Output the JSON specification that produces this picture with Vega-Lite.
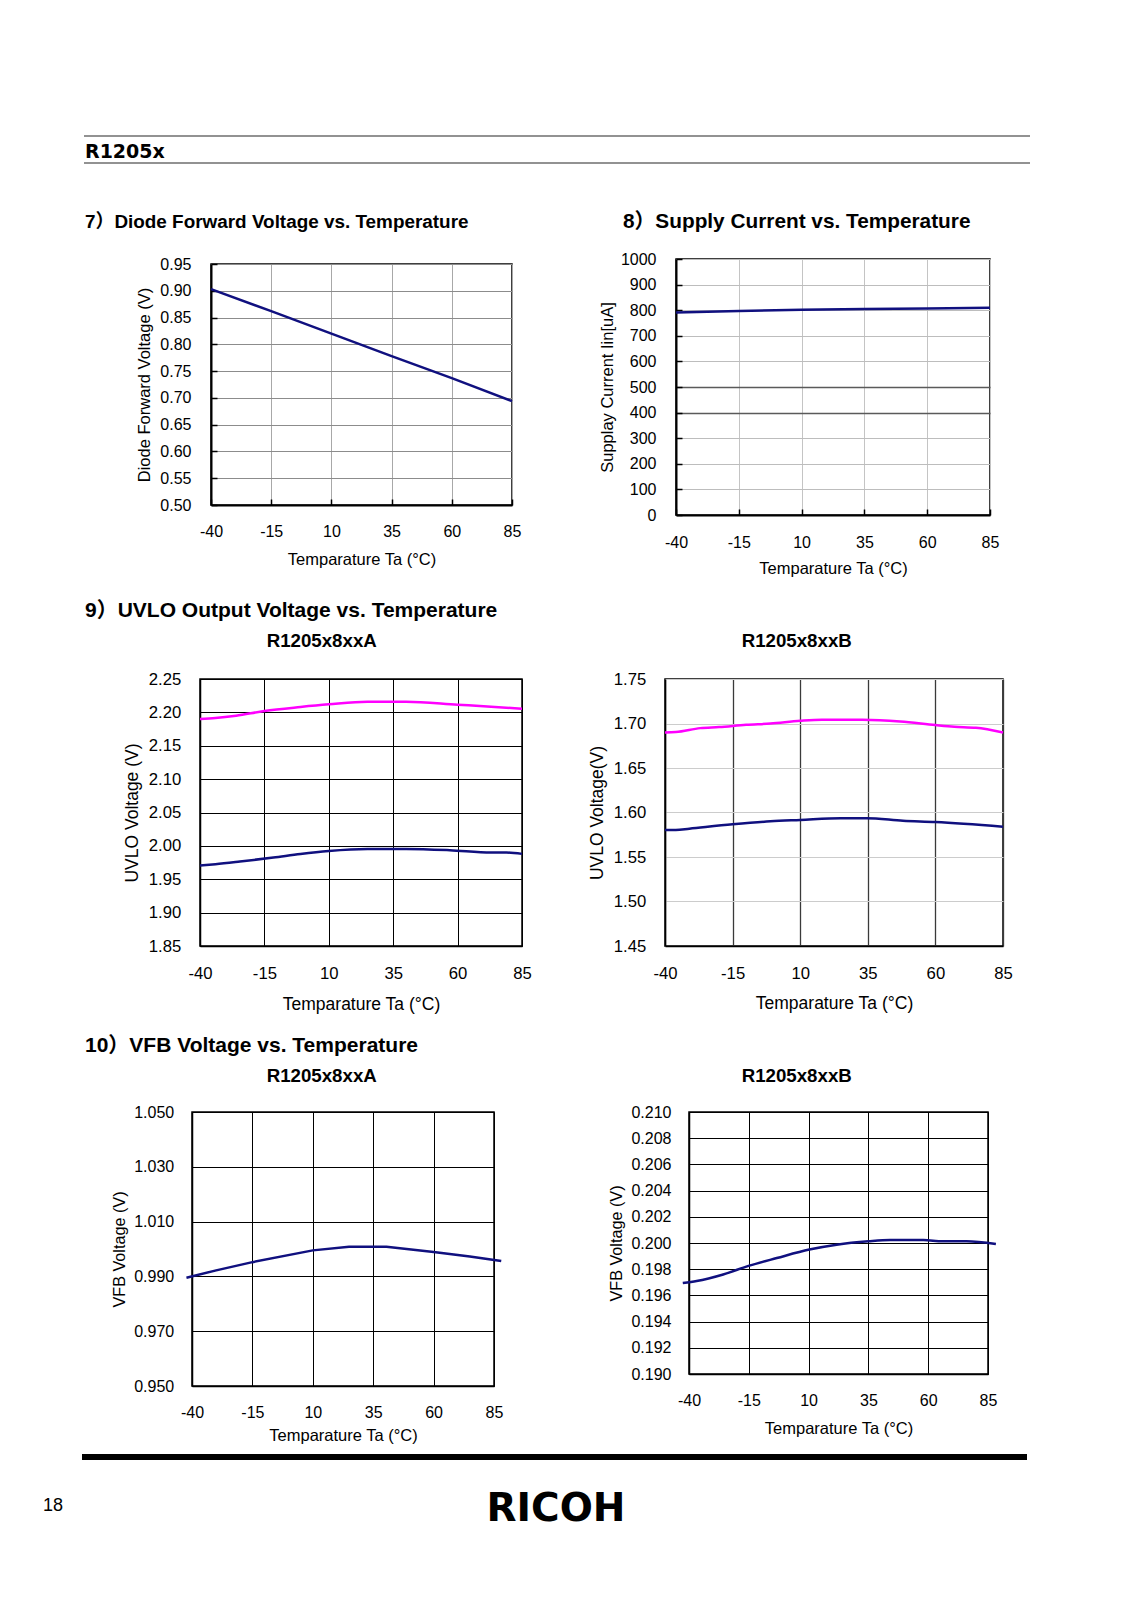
{
  "$schema": "https://vega.github.io/schema/vega-lite/v6.json",
  "background": "white",
  "padding": {"left": 43, "top": 135, "right": 20, "bottom": 60},
  "bounds": "flush",
  "spacing": 0,
  "config": {
    "view": {"stroke": null},
    "font": "Liberation Sans",
    "title": {"font": "Liberation Sans, Noto Sans CJK JP", "fontSize": 18.5, "fontWeight": "bold", "color": "#000", "baseline": "alphabetic", "frame": "group", "offset": 0},
    "axis": {"labelFont": "Liberation Sans", "titleFont": "Liberation Sans", "labelColor": "#000", "titleColor": "#000", "titleFontWeight": "normal", "labelFontSize": 16, "titleFontSize": 16.5, "domainColor": "#000", "domainWidth": 1.5, "tickColor": "#000", "tickWidth": 1.5, "labelFlush": false, "labelOverlap": false, "titleBaseline": "alphabetic", "gridOpacity": 1, "gridWidth": 1}
  },
  "datasets": {
    "blank": [{}],
    "header": [{"edge": "top"}, {"edge": "bottom"}],
    "footer": [{"k": "line"}],
    "diode": [
      {"t": -40, "v": 0.903}, {"t": -15, "v": 0.862}, {"t": 10, "v": 0.820},
      {"t": 35, "v": 0.778}, {"t": 60, "v": 0.737}, {"t": 85, "v": 0.694}
    ],
    "supply": [
      {"t": -40, "v": 791}, {"t": -15, "v": 797}, {"t": 10, "v": 802},
      {"t": 35, "v": 805}, {"t": 60, "v": 807}, {"t": 85, "v": 810}
    ],
    "uvloA": [
      {"s": "high", "t": -40, "v": 2.190}, {"s": "high", "t": -34, "v": 2.1915}, {"s": "high", "t": -26, "v": 2.195},
      {"s": "high", "t": -15, "v": 2.202}, {"s": "high", "t": -1, "v": 2.208}, {"s": "high", "t": 10, "v": 2.212},
      {"s": "high", "t": 25, "v": 2.216}, {"s": "high", "t": 40, "v": 2.216}, {"s": "high", "t": 60, "v": 2.2115},
      {"s": "high", "t": 73, "v": 2.2085}, {"s": "high", "t": 85, "v": 2.2055},
      {"s": "low", "t": -40, "v": 1.9705}, {"s": "low", "t": -34, "v": 1.9725}, {"s": "low", "t": -24.5, "v": 1.9765},
      {"s": "low", "t": -11.5, "v": 1.9825}, {"s": "low", "t": -1, "v": 1.988}, {"s": "low", "t": 10, "v": 1.9925},
      {"s": "low", "t": 25, "v": 1.9955}, {"s": "low", "t": 40, "v": 1.9955}, {"s": "low", "t": 57, "v": 1.9935},
      {"s": "low", "t": 73, "v": 1.990}, {"s": "low", "t": 79, "v": 1.990}, {"s": "low", "t": 85, "v": 1.988}
    ],
    "uvloB": [
      {"s": "high", "t": -40, "v": 1.690}, {"s": "high", "t": -36, "v": 1.6904}, {"s": "high", "t": -27, "v": 1.6948},
      {"s": "high", "t": -20, "v": 1.696}, {"s": "high", "t": -10, "v": 1.6985}, {"s": "high", "t": -1, "v": 1.700},
      {"s": "high", "t": 10, "v": 1.703}, {"s": "high", "t": 18, "v": 1.7042}, {"s": "high", "t": 33, "v": 1.7042},
      {"s": "high", "t": 47, "v": 1.7023}, {"s": "high", "t": 60, "v": 1.6982}, {"s": "high", "t": 67, "v": 1.6963},
      {"s": "high", "t": 75, "v": 1.6951}, {"s": "high", "t": 85, "v": 1.690},
      {"s": "low", "t": -40, "v": 1.5803}, {"s": "low", "t": -36, "v": 1.5803}, {"s": "low", "t": -31, "v": 1.5818},
      {"s": "low", "t": -15, "v": 1.5867}, {"s": "low", "t": -1, "v": 1.5901}, {"s": "low", "t": 10, "v": 1.5916},
      {"s": "low", "t": 25, "v": 1.5935}, {"s": "low", "t": 34.5, "v": 1.5935}, {"s": "low", "t": 48, "v": 1.5908},
      {"s": "low", "t": 60, "v": 1.5893}, {"s": "low", "t": 85, "v": 1.584}
    ],
    "vfbA": [
      {"t": -42.3, "v": 0.9895}, {"t": -30, "v": 0.9922}, {"t": -15, "v": 0.9952},
      {"t": 10, "v": 0.9995}, {"t": 25, "v": 1.0008}, {"t": 40.5, "v": 1.0008},
      {"t": 60, "v": 0.9989}, {"t": 75, "v": 0.9973}, {"t": 88, "v": 0.9956}
    ],
    "vfbB": [
      {"t": -42.6, "v": 0.19695}, {"t": -36.8, "v": 0.1971}, {"t": -25.7, "v": 0.1976},
      {"t": -14.8, "v": 0.19827}, {"t": -3.3, "v": 0.19885}, {"t": 10.3, "v": 0.1995},
      {"t": 21.7, "v": 0.19987}, {"t": 35, "v": 0.20013}, {"t": 44, "v": 0.20023},
      {"t": 58, "v": 0.20023}, {"t": 66, "v": 0.20013}, {"t": 76, "v": 0.20013},
      {"t": 88.3, "v": 0.19992}
    ]
  },
  "vconcat": [
    {
      "hconcat": [
        {"width": 41, "height": 1, "data": {"name": "blank"}, "mark": {"type": "point", "size": 0, "opacity": 0},
         "title": {"text": "R1205x", "anchor": "start", "offset": -26.3, "dx": 42, "font": "DejaVu Sans", "fontSize": 19}},
        {
          "width": 946, "height": 27,
          "data": {"name": "header"},
          "mark": {"type": "rule", "color": "#6e6e6e", "strokeWidth": 1.3},
          "encoding": {"y": {"field": "edge", "type": "nominal", "scale": {"type": "point", "domain": ["top", "bottom"], "padding": 0}, "axis": null}}
        }
      ],
      "spacing": 0, "bounds": "flush"
    },
    {"width": 1, "height": 123, "data": {"name": "blank"}, "mark": {"type": "point", "size": 0, "opacity": 0}},
    {
      "hconcat": [
        {"width": 633, "height": 1, "data": {"name": "blank"}, "mark": {"type": "point", "size": 0, "opacity": 0},
         "title": {"text": "8）Supply Current vs. Temperature", "anchor": "start", "offset": 26.7, "dx": 580, "fontSize": 20.8}},
        {
          "width": 314, "height": 256,
          "view": {"stroke": "#000", "strokeWidth": 1.5},
          "data": {"name": "supply"},
          "mark": {"type": "line", "color": "#10107f", "strokeWidth": 2.5},
          "encoding": {
            "x": {"field": "t", "type": "quantitative", "scale": {"domain": [-40, 85], "nice": false, "zero": false},
              "axis": {"values": [-40, -15, 10, 35, 60, 85], "labelExpr": "'' + datum.value", "title": "Temparature Ta (°C)", "titleY": 58.3, "labelPadding": 25.1, "tickSize": -6, "domainWidth": 2, "gridColor": "#c4c4c4"}},
            "y": {"field": "v", "type": "quantitative", "scale": {"domain": [0, 1000], "nice": false, "zero": false},
              "axis": {"values": [0, 100, 200, 300, 400, 500, 600, 700, 800, 900, 1000], "format": "d", "title": "Supplay Current Iin[uA]", "titleX": -64, "labelPadding": 26, "tickSize": -6, "domainWidth": 2,
                "gridColor": {"condition": {"test": "datum.value === 400 || datum.value === 500", "value": "#5a5a5a"}, "value": "#bdbdbd"},
                "gridWidth": {"condition": {"test": "datum.value === 400 || datum.value === 500", "value": 1.6}, "value": 1}}}
          }
        }
      ],
      "spacing": 0, "bounds": "flush"
    },
    {"width": 1, "height": 5, "data": {"name": "blank"}, "mark": {"type": "point", "size": 0, "opacity": 0}},
    {
      "hconcat": [
        {"width": 168, "height": 1, "data": {"name": "blank"}, "mark": {"type": "point", "size": 0, "opacity": 0},
         "title": {"text": "7）Diode Forward Voltage vs. Temperature", "anchor": "start", "offset": 32, "dx": 42, "fontSize": 18.9}},
        {
          "width": 301, "height": 241,
          "view": {"stroke": "#000", "strokeWidth": 1.5},
          "data": {"name": "diode"},
          "mark": {"type": "line", "color": "#10107f", "strokeWidth": 2.5},
          "encoding": {
            "x": {"field": "t", "type": "quantitative", "scale": {"domain": [-40, 85], "nice": false, "zero": false},
              "axis": {"values": [-40, -15, 10, 35, 60, 85], "labelExpr": "'' + datum.value", "title": "Temparature Ta (°C)", "titleY": 59.7, "labelPadding": 24.8, "tickSize": -6, "domainWidth": 2, "gridColor": "#a8a8a8"}},
            "y": {"field": "v", "type": "quantitative", "scale": {"domain": [0.5, 0.95], "nice": false, "zero": false},
              "axis": {"values": [0.5, 0.55, 0.6, 0.65, 0.7, 0.75, 0.8, 0.85, 0.9, 0.95], "format": ".2f", "title": "Diode Forward Voltage (V)", "titleX": -61.4, "labelPadding": 26, "tickSize": -6, "domainWidth": 2, "gridColor": "#8c8c8c"}}
          }
        }
      ],
      "spacing": 0, "bounds": "flush"
    },
    {"width": 1, "height": 415, "data": {"name": "blank"}, "mark": {"type": "point", "size": 0, "opacity": 0}},
    {
      "hconcat": [
        {"width": 157, "height": 1, "data": {"name": "blank"}, "mark": {"type": "point", "size": 0, "opacity": 0},
         "title": {"text": "9）UVLO Output Voltage vs. Temperature", "anchor": "start", "offset": 57.8, "dx": 42, "fontSize": 21}},
        {
          "width": 322, "height": 267,
          "view": {"stroke": "#000", "strokeWidth": 1.5},
          "data": {"name": "uvloA"},
          "title": {"text": "R1205x8xxA", "anchor": "middle", "fontSize": 18.7, "offset": 20, "dx": -39.3},
          "mark": {"type": "line", "strokeWidth": 2.5, "interpolate": "monotone"},
          "encoding": {
            "x": {"field": "t", "type": "quantitative", "scale": {"domain": [-40, 85], "nice": false, "zero": false},
              "axis": {"values": [-40, -15, 10, 35, 60, 85], "labelExpr": "'' + datum.value", "title": "Temparature Ta (°C)", "titleY": 63, "labelPadding": 19.1, "ticks": false, "gridColor": "#000", "labelFontSize": 16.7, "titleFontSize": 17.5}},
            "y": {"field": "v", "type": "quantitative", "scale": {"domain": [1.85, 2.25], "nice": false, "zero": false},
              "axis": {"values": [1.85, 1.9, 1.95, 2.0, 2.05, 2.1, 2.15, 2.2, 2.25], "format": ".2f", "title": "UVLO Voltage (V)", "titleX": -62.7, "labelPadding": 19.3, "ticks": false, "gridColor": "#000", "labelFontSize": 16.7, "titleFontSize": 17.5}},
            "color": {"field": "s", "type": "nominal", "scale": {"domain": ["high", "low"], "range": ["#ff00ff", "#10107f"]}, "legend": null}
          }
        },
        {"width": 143, "height": 1, "data": {"name": "blank"}, "mark": {"type": "point", "size": 0, "opacity": 0}},
        {
          "width": 338, "height": 267,
          "view": {"stroke": "#000", "strokeWidth": 1.5},
          "data": {"name": "uvloB"},
          "title": {"text": "R1205x8xxB", "anchor": "middle", "fontSize": 18.7, "offset": 20.3, "dx": -37.3},
          "mark": {"type": "line", "strokeWidth": 2.5, "interpolate": "monotone"},
          "encoding": {
            "x": {"field": "t", "type": "quantitative", "scale": {"domain": [-40, 85], "nice": false, "zero": false},
              "axis": {"values": [-40, -15, 10, 35, 60, 85], "labelExpr": "'' + datum.value", "title": "Temparature Ta (°C)", "titleY": 62.4, "labelPadding": 19.3, "ticks": false, "gridColor": "#3a3a3a", "gridWidth": 1.3, "labelFontSize": 16.7, "titleFontSize": 17.5}},
            "y": {"field": "v", "type": "quantitative", "scale": {"domain": [1.45, 1.75], "nice": false, "zero": false},
              "axis": {"values": [1.45, 1.5, 1.55, 1.6, 1.65, 1.7, 1.75], "format": ".2f", "title": "UVLO Voltage(V)", "titleX": -62.6, "labelPadding": 19.3, "ticks": false, "gridColor": "#cccccc", "labelFontSize": 16.7, "titleFontSize": 17.5}},
            "color": {"field": "s", "type": "nominal", "scale": {"domain": ["high", "low"], "range": ["#ff00ff", "#10107f"]}, "legend": null}
          }
        }
      ],
      "spacing": 0, "bounds": "flush"
    },
    {"width": 1, "height": 433, "data": {"name": "blank"}, "mark": {"type": "point", "size": 0, "opacity": 0}},
    {
      "hconcat": [
        {"width": 149, "height": 1, "data": {"name": "blank"}, "mark": {"type": "point", "size": 0, "opacity": 0},
         "title": {"text": "10）VFB Voltage vs. Temperature", "anchor": "start", "offset": 55.8, "dx": 42, "fontSize": 21}},
        {
          "width": 302, "height": 274,
          "view": {"stroke": "#000", "strokeWidth": 1.5},
          "data": {"name": "vfbA"},
          "title": {"text": "R1205x8xxA", "anchor": "middle", "fontSize": 18.7, "offset": 18.1, "dx": -21.3},
          "mark": {"type": "line", "color": "#10107f", "strokeWidth": 2.5},
          "encoding": {
            "x": {"field": "t", "type": "quantitative", "scale": {"domain": [-40, 85], "nice": false, "zero": false},
              "axis": {"values": [-40, -15, 10, 35, 60, 85], "labelExpr": "'' + datum.value", "title": "Temparature Ta (°C)", "titleY": 54, "labelPadding": 18.7, "ticks": false, "gridColor": "#000"}},
            "y": {"field": "v", "type": "quantitative", "scale": {"domain": [0.95, 1.05], "nice": false, "zero": false},
              "axis": {"values": [0.95, 0.97, 0.99, 1.01, 1.03, 1.05], "format": ".3f", "title": "VFB Voltage (V)", "titleX": -68, "labelPadding": 18.3, "ticks": false, "gridColor": "#000", "titleFontSize": 16.2}}
          }
        },
        {"width": 195, "height": 1, "data": {"name": "blank"}, "mark": {"type": "point", "size": 0, "opacity": 0}},
        {
          "width": 299, "height": 262,
          "view": {"stroke": "#000", "strokeWidth": 1.5},
          "data": {"name": "vfbB"},
          "title": {"text": "R1205x8xxB", "anchor": "middle", "fontSize": 18.7, "offset": 18.7, "dx": -41.8},
          "mark": {"type": "line", "color": "#10107f", "strokeWidth": 2.5, "interpolate": "monotone"},
          "encoding": {
            "x": {"field": "t", "type": "quantitative", "scale": {"domain": [-40, 85], "nice": false, "zero": false},
              "axis": {"values": [-40, -15, 10, 35, 60, 85], "labelExpr": "'' + datum.value", "title": "Temparature Ta (°C)", "titleY": 59.3, "labelPadding": 18.4, "ticks": false, "gridColor": "#000"}},
            "y": {"field": "v", "type": "quantitative", "scale": {"domain": [0.19, 0.21], "nice": false, "zero": false},
              "axis": {"values": [0.19, 0.192, 0.194, 0.196, 0.198, 0.2, 0.202, 0.204, 0.206, 0.208, 0.21], "format": ".3f", "title": "VFB Voltage (V)", "titleX": -67.3, "labelPadding": 18, "ticks": false, "gridColor": "#000", "titleFontSize": 16.2}}
          }
        }
      ],
      "spacing": 0, "bounds": "flush"
    },
    {"width": 1, "height": 342, "data": {"name": "blank"}, "mark": {"type": "point", "size": 0, "opacity": 0}},
    {
      "hconcat": [
        {"width": 39, "height": 6, "data": {"name": "blank"}, "mark": {"type": "point", "size": 0, "opacity": 0},
         "title": {"text": "18", "orient": "bottom", "anchor": "start", "offset": 36.5, "font": "Liberation Sans", "fontSize": 18, "fontWeight": "normal"}},
        {
          "width": 945, "height": 6,
          "data": {"name": "footer"},
          "mark": {"type": "rule", "color": "#000", "strokeWidth": 6},
          "encoding": {"y": {"field": "k", "type": "nominal", "scale": {"type": "point", "padding": 0.5}, "axis": null}},
          "title": {"text": "RICOH", "orient": "bottom", "anchor": "middle", "offset": 29.5, "dx": 1.5, "font": "DejaVu Sans", "fontSize": 39, "fontWeight": "bold"}
        }
      ],
      "spacing": 0, "bounds": "flush"
    }
  ]
}
